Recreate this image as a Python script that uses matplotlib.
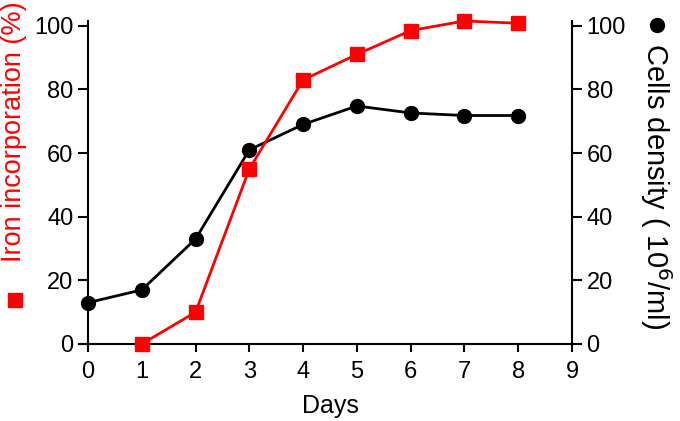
import matplotlib.pyplot as plt
from matplotlib.lines import Line2D

plt.rcParams['font.family'] = ['Liberation Sans', 'DejaVu Sans']

# 数据
days_iron = [1, 2, 3, 4, 5, 6, 7, 8]
iron = [0, 10, 55, 83, 91, 98.5, 101.5, 100.8]
days_cells = [0, 1, 2, 3, 4, 5, 6, 7, 8]
cells = [13, 17, 33, 61, 69, 74.8, 72.6, 71.8, 71.8]
xticks = list(range(10))
yticks = [0, 20, 40, 60, 80, 100]

fig = plt.figure(figsize=(6.8, 4.21), dpi=100)
ax = fig.add_axes([88 / 680, 77 / 421, 484 / 680, 323 / 421])
ax2 = ax.twinx()

ax2.plot(days_cells, cells, color='black', lw=2, marker='o', ms=10, clip_on=False, zorder=3)
ax.plot(days_iron, iron, color='#ff0000', lw=2, marker='s', ms=10.5, clip_on=False, zorder=4)
ax.set_zorder(ax2.get_zorder() + 1)
ax.patch.set_visible(False)

for a in (ax, ax2):
    a.set_xlim(0, 9)
    a.set_ylim(0, 101.5)
    a.set_yticks(yticks)
    a.spines['top'].set_visible(False)
    for s in a.spines.values():
        s.set_linewidth(1.5)
    a.tick_params(axis='y', width=1.5, length=7.5, pad=3, labelsize=17, direction='out')
    a.tick_params(axis='x', width=1.5, length=6, pad=6, labelsize=17, direction='out')

ax.spines['right'].set_visible(False)
ax2.spines['left'].set_visible(False)
ax2.spines['bottom'].set_visible(False)
ax.set_xticks(xticks)
ax.set_xlabel('Days', fontsize=18, labelpad=8)

fig.text(14 / 680, 1 - 132 / 421, 'Iron incorporation (%)', rotation=90, color='#ff0000',
         fontsize=19.5, ha='center', va='center')
fig.text(656 / 680, 1 - 186 / 421, 'Cells density ( 10$^6$/ml)', rotation=270, color='black',
         fontsize=21, ha='center', va='center')
fig.add_artist(Line2D([15 / 680], [1 - 300 / 421], marker='s', ms=10, color='#ff0000',
                      transform=fig.transFigure))
fig.add_artist(Line2D([657 / 680], [1 - 25 / 421], marker='o', ms=10, color='black',
                      transform=fig.transFigure))

plt.savefig('out.png', dpi=100)
